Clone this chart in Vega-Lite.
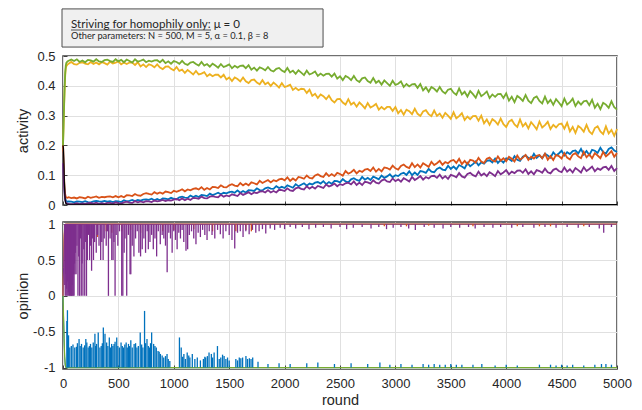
{
"$schema": "https://vega.github.io/schema/vega-lite/v6.json",
"padding": {"left": 14, "top": 7, "right": 5, "bottom": 0},
"config": {
 "view": {"stroke": "#404040", "strokeWidth": 1.5},
 "font": "Liberation Sans",
 "axis": {"grid": true, "gridColor": "#e0e0e0", "gridWidth": 1, "domain": false, "ticks": true, "tickColor": "#404040", "tickSize": -4, "labelPadding": 12, "labelFlush": false, "labelOverlap": false, "labelFont": "Liberation Sans", "labelFontSize": 13, "labelColor": "#262626", "titleFont": "Liberation Sans", "titleFontSize": 14.5, "titleFontWeight": "normal", "titleColor": "#262626"}
},
"datasets": {
"act": [
{"r":0,"G":0.2,"Y":0.2,"O":0.21,"B":0.18,"P":0.14},
{"r":5,"G":0.27,"Y":0.26,"O":0.15,"B":0.13,"P":0.1},
{"r":10,"G":0.34,"Y":0.33,"O":0.09,"B":0.08,"P":0.06},
{"r":15,"G":0.4,"Y":0.39,"O":0.055,"B":0.045,"P":0.035},
{"r":20,"G":0.445,"Y":0.435,"O":0.035,"B":0.025,"P":0.018},
{"r":25,"G":0.468,"Y":0.458,"O":0.028,"B":0.016,"P":0.01},
{"r":30,"G":0.477,"Y":0.466,"O":0.025,"B":0.013,"P":0.006},
{"r":40,"G":0.482,"Y":0.471,"O":0.024,"B":0.011,"P":0.005},
{"r":50,"G":0.484,"Y":0.474,"O":0.026,"B":0.012,"P":0.004},
{"r":75,"G":0.488,"Y":0.48,"O":0.023,"B":0.011,"P":0.003},
{"r":100,"G":0.483,"Y":0.473,"O":0.025,"B":0.009,"P":0.004},
{"r":125,"G":0.489,"Y":0.471,"O":0.022,"B":0.012,"P":0.006},
{"r":150,"G":0.48,"Y":0.477,"O":0.026,"B":0.011,"P":0.003},
{"r":175,"G":0.485,"Y":0.479,"O":0.025,"B":0.01,"P":0.005},
{"r":200,"G":0.479,"Y":0.474,"O":0.022,"B":0.013,"P":0.004},
{"r":225,"G":0.487,"Y":0.472,"O":0.028,"B":0.01,"P":0.006},
{"r":250,"G":0.485,"Y":0.48,"O":0.024,"B":0.009,"P":0.007},
{"r":275,"G":0.481,"Y":0.473,"O":0.026,"B":0.012,"P":0.005},
{"r":300,"G":0.489,"Y":0.478,"O":0.029,"B":0.014,"P":0.008},
{"r":325,"G":0.482,"Y":0.472,"O":0.024,"B":0.012,"P":0.004},
{"r":350,"G":0.48,"Y":0.479,"O":0.027,"B":0.011,"P":0.006},
{"r":375,"G":0.486,"Y":0.476,"O":0.026,"B":0.014,"P":0.004},
{"r":400,"G":0.488,"Y":0.471,"O":0.028,"B":0.011,"P":0.007},
{"r":425,"G":0.483,"Y":0.481,"O":0.029,"B":0.013,"P":0.007},
{"r":450,"G":0.48,"Y":0.475,"O":0.026,"B":0.01,"P":0.005},
{"r":475,"G":0.489,"Y":0.478,"O":0.03,"B":0.013,"P":0.009},
{"r":500,"G":0.482,"Y":0.482,"O":0.026,"B":0.012,"P":0.006},
{"r":525,"G":0.487,"Y":0.472,"O":0.03,"B":0.01,"P":0.005},
{"r":550,"G":0.479,"Y":0.478,"O":0.026,"B":0.016,"P":0.009},
{"r":575,"G":0.488,"Y":0.473,"O":0.033,"B":0.012,"P":0.011},
{"r":600,"G":0.483,"Y":0.478,"O":0.032,"B":0.014,"P":0.008},
{"r":625,"G":0.478,"Y":0.478,"O":0.03,"B":0.017,"P":0.007},
{"r":650,"G":0.489,"Y":0.47,"O":0.037,"B":0.013,"P":0.013},
{"r":675,"G":0.481,"Y":0.479,"O":0.032,"B":0.017,"P":0.009},
{"r":700,"G":0.484,"Y":0.465,"O":0.031,"B":0.015,"P":0.012},
{"r":725,"G":0.488,"Y":0.472,"O":0.037,"B":0.018,"P":0.009},
{"r":750,"G":0.479,"Y":0.463,"O":0.04,"B":0.019,"P":0.013},
{"r":775,"G":0.484,"Y":0.472,"O":0.037,"B":0.017,"P":0.012},
{"r":800,"G":0.481,"Y":0.469,"O":0.035,"B":0.021,"P":0.01},
{"r":825,"G":0.485,"Y":0.462,"O":0.043,"B":0.016,"P":0.015},
{"r":850,"G":0.486,"Y":0.472,"O":0.038,"B":0.02,"P":0.012},
{"r":875,"G":0.479,"Y":0.461,"O":0.042,"B":0.016,"P":0.014},
{"r":900,"G":0.487,"Y":0.456,"O":0.038,"B":0.022,"P":0.017},
{"r":925,"G":0.476,"Y":0.464,"O":0.045,"B":0.021,"P":0.013},
{"r":950,"G":0.482,"Y":0.465,"O":0.043,"B":0.019,"P":0.016},
{"r":975,"G":0.474,"Y":0.457,"O":0.04,"B":0.024,"P":0.015},
{"r":1000,"G":0.483,"Y":0.452,"O":0.048,"B":0.021,"P":0.018},
{"r":1025,"G":0.48,"Y":0.463,"O":0.044,"B":0.019,"P":0.02},
{"r":1050,"G":0.474,"Y":0.45,"O":0.048,"B":0.026,"P":0.016},
{"r":1075,"G":0.484,"Y":0.454,"O":0.053,"B":0.028,"P":0.022},
{"r":1100,"G":0.474,"Y":0.443,"O":0.046,"B":0.025,"P":0.016},
{"r":1125,"G":0.47,"Y":0.453,"O":0.052,"B":0.024,"P":0.021},
{"r":1150,"G":0.478,"Y":0.446,"O":0.049,"B":0.032,"P":0.017},
{"r":1175,"G":0.48,"Y":0.438,"O":0.054,"B":0.027,"P":0.024},
{"r":1200,"G":0.473,"Y":0.45,"O":0.056,"B":0.031,"P":0.023},
{"r":1225,"G":0.468,"Y":0.438,"O":0.052,"B":0.027,"P":0.021},
{"r":1250,"G":0.48,"Y":0.441,"O":0.06,"B":0.034,"P":0.028},
{"r":1275,"G":0.468,"Y":0.446,"O":0.051,"B":0.032,"P":0.023},
{"r":1300,"G":0.473,"Y":0.432,"O":0.057,"B":0.03,"P":0.022},
{"r":1325,"G":0.464,"Y":0.439,"O":0.052,"B":0.038,"P":0.028},
{"r":1350,"G":0.474,"Y":0.432,"O":0.061,"B":0.033,"P":0.03},
{"r":1375,"G":0.468,"Y":0.437,"O":0.06,"B":0.037,"P":0.027},
{"r":1400,"G":0.461,"Y":0.437,"O":0.057,"B":0.041,"P":0.026},
{"r":1425,"G":0.473,"Y":0.428,"O":0.066,"B":0.036,"P":0.034},
{"r":1450,"G":0.463,"Y":0.437,"O":0.06,"B":0.041,"P":0.028},
{"r":1475,"G":0.467,"Y":0.421,"O":0.059,"B":0.039,"P":0.032},
{"r":1500,"G":0.472,"Y":0.428,"O":0.066,"B":0.043,"P":0.029},
{"r":1525,"G":0.459,"Y":0.416,"O":0.07,"B":0.045,"P":0.036},
{"r":1550,"G":0.467,"Y":0.428,"O":0.065,"B":0.041,"P":0.033},
{"r":1575,"G":0.461,"Y":0.423,"O":0.063,"B":0.049,"P":0.03},
{"r":1600,"G":0.467,"Y":0.415,"O":0.074,"B":0.041,"P":0.04},
{"r":1625,"G":0.468,"Y":0.428,"O":0.066,"B":0.047,"P":0.034},
{"r":1650,"G":0.459,"Y":0.415,"O":0.072,"B":0.042,"P":0.038},
{"r":1675,"G":0.469,"Y":0.409,"O":0.066,"B":0.05,"P":0.043},
{"r":1700,"G":0.454,"Y":0.419,"O":0.076,"B":0.049,"P":0.036},
{"r":1725,"G":0.461,"Y":0.421,"O":0.073,"B":0.047,"P":0.042},
{"r":1750,"G":0.451,"Y":0.411,"O":0.069,"B":0.056,"P":0.04},
{"r":1775,"G":0.462,"Y":0.405,"O":0.081,"B":0.05,"P":0.045},
{"r":1800,"G":0.458,"Y":0.419,"O":0.074,"B":0.049,"P":0.046},
{"r":1825,"G":0.452,"Y":0.405,"O":0.079,"B":0.056,"P":0.042},
{"r":1850,"G":0.463,"Y":0.411,"O":0.084,"B":0.059,"P":0.05},
{"r":1875,"G":0.452,"Y":0.399,"O":0.076,"B":0.055,"P":0.042},
{"r":1900,"G":0.448,"Y":0.411,"O":0.083,"B":0.054,"P":0.047},
{"r":1925,"G":0.457,"Y":0.403,"O":0.08,"B":0.063,"P":0.042},
{"r":1950,"G":0.46,"Y":0.394,"O":0.086,"B":0.057,"P":0.051},
{"r":1975,"G":0.451,"Y":0.409,"O":0.088,"B":0.061,"P":0.05},
{"r":2000,"G":0.446,"Y":0.396,"O":0.083,"B":0.057,"P":0.047},
{"r":2025,"G":0.46,"Y":0.399,"O":0.093,"B":0.066,"P":0.056},
{"r":2050,"G":0.445,"Y":0.404,"O":0.081,"B":0.062,"P":0.049},
{"r":2075,"G":0.451,"Y":0.386,"O":0.089,"B":0.058,"P":0.047},
{"r":2100,"G":0.44,"Y":0.393,"O":0.082,"B":0.07,"P":0.056},
{"r":2125,"G":0.452,"Y":0.385,"O":0.094,"B":0.063,"P":0.059},
{"r":2150,"G":0.444,"Y":0.39,"O":0.092,"B":0.068,"P":0.054},
{"r":2175,"G":0.436,"Y":0.389,"O":0.088,"B":0.073,"P":0.052},
{"r":2200,"G":0.451,"Y":0.376,"O":0.099,"B":0.065,"P":0.063},
{"r":2225,"G":0.438,"Y":0.387,"O":0.091,"B":0.072,"P":0.055},
{"r":2250,"G":0.442,"Y":0.366,"O":0.089,"B":0.069,"P":0.061},
{"r":2275,"G":0.448,"Y":0.373,"O":0.099,"B":0.075,"P":0.055},
{"r":2300,"G":0.433,"Y":0.359,"O":0.103,"B":0.077,"P":0.064},
{"r":2325,"G":0.441,"Y":0.371,"O":0.097,"B":0.072,"P":0.061},
{"r":2350,"G":0.434,"Y":0.365,"O":0.094,"B":0.08,"P":0.057},
{"r":2375,"G":0.44,"Y":0.355,"O":0.107,"B":0.07,"P":0.069},
{"r":2400,"G":0.441,"Y":0.367,"O":0.097,"B":0.077,"P":0.062},
{"r":2425,"G":0.431,"Y":0.352,"O":0.104,"B":0.071,"P":0.066},
{"r":2450,"G":0.441,"Y":0.344,"O":0.097,"B":0.081,"P":0.072},
{"r":2475,"G":0.424,"Y":0.355,"O":0.108,"B":0.08,"P":0.063},
{"r":2500,"G":0.432,"Y":0.356,"O":0.104,"B":0.076,"P":0.07},
{"r":2525,"G":0.419,"Y":0.344,"O":0.098,"B":0.087,"P":0.067},
{"r":2550,"G":0.433,"Y":0.337,"O":0.114,"B":0.079,"P":0.073},
{"r":2575,"G":0.428,"Y":0.355,"O":0.105,"B":0.076,"P":0.075},
{"r":2600,"G":0.419,"Y":0.337,"O":0.11,"B":0.086,"P":0.069},
{"r":2625,"G":0.433,"Y":0.344,"O":0.118,"B":0.09,"P":0.079},
{"r":2650,"G":0.419,"Y":0.33,"O":0.106,"B":0.084,"P":0.067},
{"r":2675,"G":0.413,"Y":0.344,"O":0.115,"B":0.081,"P":0.075},
{"r":2700,"G":0.425,"Y":0.335,"O":0.111,"B":0.094,"P":0.067},
{"r":2725,"G":0.428,"Y":0.324,"O":0.119,"B":0.085,"P":0.078},
{"r":2750,"G":0.416,"Y":0.342,"O":0.121,"B":0.091,"P":0.076},
{"r":2775,"G":0.41,"Y":0.327,"O":0.114,"B":0.084,"P":0.072},
{"r":2800,"G":0.426,"Y":0.332,"O":0.126,"B":0.095,"P":0.083},
{"r":2825,"G":0.41,"Y":0.339,"O":0.112,"B":0.091,"P":0.075},
{"r":2850,"G":0.417,"Y":0.32,"O":0.121,"B":0.086,"P":0.072},
{"r":2875,"G":0.404,"Y":0.329,"O":0.113,"B":0.099,"P":0.082},
{"r":2900,"G":0.418,"Y":0.321,"O":0.126,"B":0.091,"P":0.086},
{"r":2925,"G":0.409,"Y":0.329,"O":0.124,"B":0.096,"P":0.079},
{"r":2950,"G":0.4,"Y":0.329,"O":0.119,"B":0.103,"P":0.077},
{"r":2975,"G":0.417,"Y":0.316,"O":0.132,"B":0.093,"P":0.089},
{"r":3000,"G":0.403,"Y":0.329,"O":0.123,"B":0.1,"P":0.08},
{"r":3025,"G":0.407,"Y":0.308,"O":0.119,"B":0.097,"P":0.086},
{"r":3050,"G":0.415,"Y":0.319,"O":0.131,"B":0.105,"P":0.078},
{"r":3075,"G":0.396,"Y":0.303,"O":0.136,"B":0.108,"P":0.09},
{"r":3100,"G":0.406,"Y":0.32,"O":0.128,"B":0.101,"P":0.085},
{"r":3125,"G":0.398,"Y":0.315,"O":0.124,"B":0.113,"P":0.079},
{"r":3150,"G":0.405,"Y":0.305,"O":0.14,"B":0.1,"P":0.094},
{"r":3175,"G":0.406,"Y":0.323,"O":0.127,"B":0.109,"P":0.084},
{"r":3200,"G":0.393,"Y":0.306,"O":0.136,"B":0.101,"P":0.09},
{"r":3225,"G":0.406,"Y":0.299,"O":0.126,"B":0.114,"P":0.097},
{"r":3250,"G":0.385,"Y":0.314,"O":0.14,"B":0.112,"P":0.085},
{"r":3275,"G":0.395,"Y":0.318,"O":0.134,"B":0.108,"P":0.094},
{"r":3300,"G":0.38,"Y":0.305,"O":0.128,"B":0.121,"P":0.089},
{"r":3325,"G":0.396,"Y":0.298,"O":0.145,"B":0.112,"P":0.097},
{"r":3350,"G":0.39,"Y":0.317,"O":0.134,"B":0.11,"P":0.098},
{"r":3375,"G":0.381,"Y":0.299,"O":0.14,"B":0.121,"P":0.091},
{"r":3400,"G":0.396,"Y":0.307,"O":0.148,"B":0.126,"P":0.102},
{"r":3425,"G":0.381,"Y":0.293,"O":0.135,"B":0.119,"P":0.089},
{"r":3450,"G":0.374,"Y":0.309,"O":0.144,"B":0.117,"P":0.097},
{"r":3475,"G":0.387,"Y":0.3,"O":0.14,"B":0.132,"P":0.088},
{"r":3500,"G":0.39,"Y":0.289,"O":0.148,"B":0.121,"P":0.101},
{"r":3525,"G":0.377,"Y":0.311,"O":0.151,"B":0.129,"P":0.098},
{"r":3550,"G":0.37,"Y":0.291,"O":0.141,"B":0.12,"P":0.093},
{"r":3575,"G":0.391,"Y":0.298,"O":0.155,"B":0.134,"P":0.107},
{"r":3600,"G":0.371,"Y":0.308,"O":0.137,"B":0.129,"P":0.096},
{"r":3625,"G":0.38,"Y":0.285,"O":0.148,"B":0.123,"P":0.092},
{"r":3650,"G":0.364,"Y":0.297,"O":0.137,"B":0.141,"P":0.104},
{"r":3675,"G":0.382,"Y":0.288,"O":0.152,"B":0.13,"P":0.108},
{"r":3700,"G":0.372,"Y":0.298,"O":0.149,"B":0.137,"P":0.1},
{"r":3725,"G":0.36,"Y":0.299,"O":0.142,"B":0.146,"P":0.096},
{"r":3750,"G":0.383,"Y":0.283,"O":0.158,"B":0.133,"P":0.112},
{"r":3775,"G":0.365,"Y":0.3,"O":0.146,"B":0.143,"P":0.099},
{"r":3800,"G":0.372,"Y":0.274,"O":0.141,"B":0.139,"P":0.106},
{"r":3825,"G":0.381,"Y":0.287,"O":0.155,"B":0.148,"P":0.097},
{"r":3850,"G":0.359,"Y":0.269,"O":0.159,"B":0.15,"P":0.11},
{"r":3875,"G":0.371,"Y":0.288,"O":0.15,"B":0.143,"P":0.104},
{"r":3900,"G":0.363,"Y":0.281,"O":0.146,"B":0.156,"P":0.097},
{"r":3925,"G":0.372,"Y":0.27,"O":0.163,"B":0.141,"P":0.114},
{"r":3950,"G":0.373,"Y":0.29,"O":0.149,"B":0.151,"P":0.103},
{"r":3975,"G":0.359,"Y":0.271,"O":0.157,"B":0.142,"P":0.109},
{"r":4000,"G":0.375,"Y":0.262,"O":0.147,"B":0.157,"P":0.117},
{"r":4025,"G":0.35,"Y":0.28,"O":0.162,"B":0.154,"P":0.103},
{"r":4050,"G":0.363,"Y":0.286,"O":0.155,"B":0.148,"P":0.112},
{"r":4075,"G":0.345,"Y":0.27,"O":0.146,"B":0.164,"P":0.107},
{"r":4100,"G":0.366,"Y":0.262,"O":0.166,"B":0.152,"P":0.115},
{"r":4125,"G":0.359,"Y":0.287,"O":0.152,"B":0.148,"P":0.116},
{"r":4150,"G":0.349,"Y":0.264,"O":0.159,"B":0.162,"P":0.108},
{"r":4175,"G":0.369,"Y":0.275,"O":0.168,"B":0.167,"P":0.12},
{"r":4200,"G":0.35,"Y":0.257,"O":0.151,"B":0.158,"P":0.104},
{"r":4225,"G":0.342,"Y":0.278,"O":0.162,"B":0.154,"P":0.113},
{"r":4250,"G":0.359,"Y":0.267,"O":0.156,"B":0.172,"P":0.103},
{"r":4275,"G":0.364,"Y":0.254,"O":0.165,"B":0.158,"P":0.117},
{"r":4300,"G":0.349,"Y":0.28,"O":0.168,"B":0.167,"P":0.114},
{"r":4325,"G":0.341,"Y":0.26,"O":0.157,"B":0.157,"P":0.108},
{"r":4350,"G":0.364,"Y":0.268,"O":0.172,"B":0.172,"P":0.122},
{"r":4375,"G":0.342,"Y":0.279,"O":0.152,"B":0.166,"P":0.11},
{"r":4400,"G":0.353,"Y":0.255,"O":0.164,"B":0.159,"P":0.106},
{"r":4425,"G":0.336,"Y":0.269,"O":0.151,"B":0.177,"P":0.118},
{"r":4450,"G":0.355,"Y":0.26,"O":0.168,"B":0.166,"P":0.122},
{"r":4475,"G":0.344,"Y":0.271,"O":0.164,"B":0.173,"P":0.114},
{"r":4500,"G":0.332,"Y":0.273,"O":0.156,"B":0.182,"P":0.11},
{"r":4525,"G":0.357,"Y":0.256,"O":0.174,"B":0.166,"P":0.126},
{"r":4550,"G":0.337,"Y":0.276,"O":0.159,"B":0.177,"P":0.112},
{"r":4575,"G":0.345,"Y":0.247,"O":0.153,"B":0.171,"P":0.12},
{"r":4600,"G":0.357,"Y":0.262,"O":0.169,"B":0.181,"P":0.109},
{"r":4625,"G":0.332,"Y":0.242,"O":0.174,"B":0.183,"P":0.124},
{"r":4650,"G":0.347,"Y":0.265,"O":0.163,"B":0.173,"P":0.117},
{"r":4675,"G":0.337,"Y":0.258,"O":0.157,"B":0.188,"P":0.109},
{"r":4700,"G":0.348,"Y":0.246,"O":0.178,"B":0.169,"P":0.127},
{"r":4725,"G":0.35,"Y":0.269,"O":0.16,"B":0.181,"P":0.114},
{"r":4750,"G":0.335,"Y":0.247,"O":0.17,"B":0.168,"P":0.121},
{"r":4775,"G":0.353,"Y":0.238,"O":0.157,"B":0.185,"P":0.129},
{"r":4800,"G":0.326,"Y":0.258,"O":0.174,"B":0.182,"P":0.113},
{"r":4825,"G":0.34,"Y":0.264,"O":0.166,"B":0.175,"P":0.123},
{"r":4850,"G":0.322,"Y":0.247,"O":0.157,"B":0.192,"P":0.118},
{"r":4875,"G":0.343,"Y":0.238,"O":0.178,"B":0.178,"P":0.126},
{"r":4900,"G":0.337,"Y":0.264,"O":0.163,"B":0.173,"P":0.128},
{"r":4925,"G":0.326,"Y":0.24,"O":0.171,"B":0.188,"P":0.118},
{"r":4950,"G":0.348,"Y":0.252,"O":0.181,"B":0.193,"P":0.131},
{"r":4975,"G":0.328,"Y":0.232,"O":0.162,"B":0.183,"P":0.114},
{"r":5000,"G":0.32,"Y":0.255,"O":0.174,"B":0.178,"P":0.124}
],
"blk": [
{"r":0,"K":0.2},{"r":4,"K":0.19},{"r":8,"K":0.14},{"r":12,"K":0.08},{"r":16,"K":0.04},{"r":20,"K":0.015},{"r":25,"K":0.006},{"r":35,"K":0.003},{"r":5000,"K":0.001}
],
"op": [
{"r":0,"B":0,"O":0,"Y":0,"P":0,"G":0},
{"r":5,"B":-0.3,"O":0.5,"Y":0.4,"P":0.4,"G":-0.3},
{"r":10,"B":-0.6,"O":0.85,"Y":0.75,"P":0.75,"G":-0.6},
{"r":15,"B":-0.85,"O":0.97,"Y":0.93,"P":0.95,"G":-0.85},
{"r":20,"B":-0.97,"O":1,"Y":0.99,"P":1,"G":-0.95},
{"r":25,"B":-1,"O":1,"Y":1,"P":1,"G":-0.99},
{"r":30,"B":-1,"O":1,"Y":1,"P":1,"G":-1},
{"r":5000,"B":-1,"O":1,"Y":1,"P":1,"G":-1}
],
"spk": [
{"r":35,"v":-0.35,"s":"B"},{"r":40,"v":-0.2,"s":"B"},{"r":50,"v":-0.55,"s":"B"},{"r":61,"v":-0.72,"s":"B"},{"r":75,"v":-0.7,"s":"B"},{"r":90,"v":-0.68,"s":"B"},{"r":106,"v":-0.72,"s":"B"},{"r":121,"v":-0.71,"s":"B"},{"r":130,"v":-0.66,"s":"B"},{"r":145,"v":-0.6,"s":"B"},{"r":155,"v":-0.7,"s":"B"},{"r":167,"v":-0.67,"s":"B"},{"r":182,"v":-0.72,"s":"B"},{"r":195,"v":-0.69,"s":"B"},{"r":206,"v":-0.6,"s":"B"},{"r":215,"v":-0.65,"s":"B"},{"r":227,"v":-0.72,"s":"B"},{"r":238,"v":-0.7,"s":"B"},{"r":248,"v":-0.67,"s":"B"},{"r":260,"v":-0.72,"s":"B"},{"r":273,"v":-0.65,"s":"B"},{"r":288,"v":-0.53,"s":"B"},{"r":295,"v":-0.7,"s":"B"},{"r":303,"v":-0.67,"s":"B"},{"r":318,"v":-0.51,"s":"B"},{"r":333,"v":-0.72,"s":"B"},{"r":345,"v":-0.7,"s":"B"},{"r":355,"v":-0.66,"s":"B"},{"r":364,"v":-0.44,"s":"B"},{"r":379,"v":-0.53,"s":"B"},{"r":394,"v":-0.65,"s":"B"},{"r":405,"v":-0.7,"s":"B"},{"r":418,"v":-0.58,"s":"B"},{"r":428,"v":-0.72,"s":"B"},{"r":439,"v":-0.67,"s":"B"},{"r":450,"v":-0.7,"s":"B"},{"r":461,"v":-0.67,"s":"B"},{"r":470,"v":-0.64,"s":"B"},{"r":485,"v":-0.58,"s":"B"},{"r":495,"v":-0.7,"s":"B"},{"r":509,"v":-0.72,"s":"B"},{"r":524,"v":-0.65,"s":"B"},{"r":535,"v":-0.7,"s":"B"},{"r":545,"v":-0.72,"s":"B"},{"r":558,"v":-0.68,"s":"B"},{"r":570,"v":-0.65,"s":"B"},{"r":580,"v":-0.72,"s":"B"},{"r":591,"v":-0.67,"s":"B"},{"r":600,"v":-0.7,"s":"B"},{"r":612,"v":-0.62,"s":"B"},{"r":625,"v":-0.72,"s":"B"},{"r":642,"v":-0.67,"s":"B"},{"r":655,"v":-0.66,"s":"B"},{"r":667,"v":-0.72,"s":"B"},{"r":680,"v":-0.7,"s":"B"},{"r":697,"v":-0.51,"s":"B"},{"r":710,"v":-0.68,"s":"B"},{"r":721,"v":-0.72,"s":"B"},{"r":736,"v":-0.21,"s":"B"},{"r":745,"v":-0.66,"s":"B"},{"r":758,"v":-0.6,"s":"B"},{"r":770,"v":-0.7,"s":"B"},{"r":782,"v":-0.72,"s":"B"},{"r":790,"v":-0.66,"s":"B"},{"r":800,"v":-0.51,"s":"B"},{"r":818,"v":-0.67,"s":"B"},{"r":830,"v":-0.7,"s":"B"},{"r":842,"v":-0.72,"s":"B"},{"r":858,"v":-0.77,"s":"B"},{"r":868,"v":-0.78,"s":"B"},{"r":879,"v":-0.81,"s":"B"},{"r":895,"v":-0.83,"s":"B"},{"r":909,"v":-0.86,"s":"B"},{"r":925,"v":-0.84,"s":"B"},{"r":939,"v":-0.81,"s":"B"},{"r":950,"v":-0.88,"s":"B"},{"r":964,"v":-0.91,"s":"B"},{"r":1051,"v":-0.58,"s":"B"},{"r":1067,"v":-0.72,"s":"B"},{"r":1080,"v":-0.85,"s":"B"},{"r":1091,"v":-0.81,"s":"B"},{"r":1105,"v":-0.88,"s":"B"},{"r":1121,"v":-0.79,"s":"B"},{"r":1135,"v":-0.83,"s":"B"},{"r":1145,"v":-0.86,"s":"B"},{"r":1167,"v":-0.81,"s":"B"},{"r":1190,"v":-0.88,"s":"B"},{"r":1212,"v":-0.86,"s":"B"},{"r":1240,"v":-0.9,"s":"B"},{"r":1267,"v":-0.88,"s":"B"},{"r":1280,"v":-0.85,"s":"B"},{"r":1288,"v":-0.86,"s":"B"},{"r":1303,"v":-0.84,"s":"B"},{"r":1318,"v":-0.79,"s":"B"},{"r":1339,"v":-0.81,"s":"B"},{"r":1350,"v":-0.86,"s":"B"},{"r":1364,"v":-0.79,"s":"B"},{"r":1394,"v":-0.7,"s":"B"},{"r":1410,"v":-0.88,"s":"B"},{"r":1424,"v":-0.86,"s":"B"},{"r":1440,"v":-0.82,"s":"B"},{"r":1454,"v":-0.84,"s":"B"},{"r":1470,"v":-0.88,"s":"B"},{"r":1485,"v":-0.86,"s":"B"},{"r":1500,"v":-0.9,"s":"B"},{"r":1560,"v":-0.88,"s":"B"},{"r":1575,"v":-0.9,"s":"B"},{"r":1591,"v":-0.86,"s":"B"},{"r":1605,"v":-0.87,"s":"B"},{"r":1621,"v":-0.86,"s":"B"},{"r":1651,"v":-0.84,"s":"B"},{"r":1665,"v":-0.88,"s":"B"},{"r":1682,"v":-0.87,"s":"B"},{"r":1697,"v":-0.88,"s":"B"},{"r":1712,"v":-0.86,"s":"B"},{"r":1760,"v":-0.92,"s":"B"},{"r":1850,"v":-0.95,"s":"B"},{"r":1950,"v":-0.94,"s":"B"},{"r":2050,"v":-0.95,"s":"B"},{"r":2200,"v":-0.94,"s":"B"},{"r":2300,"v":-0.93,"s":"B"},{"r":2450,"v":-0.95,"s":"B"},{"r":2600,"v":-0.94,"s":"B"},{"r":2750,"v":-0.95,"s":"B"},{"r":2860,"v":-0.93,"s":"B"},{"r":2950,"v":-0.96,"s":"B"},{"r":3050,"v":-0.95,"s":"B"},{"r":3150,"v":-0.96,"s":"B"},{"r":3250,"v":-0.95,"s":"B"},{"r":3300,"v":-0.96,"s":"B"},{"r":3350,"v":-0.95,"s":"B"},{"r":3400,"v":-0.96,"s":"B"},{"r":3450,"v":-0.96,"s":"B"},{"r":3500,"v":-0.95,"s":"B"},{"r":3550,"v":-0.96,"s":"B"},{"r":3600,"v":-0.96,"s":"B"},{"r":3700,"v":-0.96,"s":"B"},{"r":3780,"v":-0.95,"s":"B"},{"r":3900,"v":-0.97,"s":"B"},{"r":4000,"v":-0.96,"s":"B"},{"r":4100,"v":-0.97,"s":"B"},{"r":4300,"v":-0.96,"s":"B"},{"r":4400,"v":-0.96,"s":"B"},{"r":4450,"v":-0.97,"s":"B"},{"r":4500,"v":-0.96,"s":"B"},{"r":4550,"v":-0.97,"s":"B"},{"r":4600,"v":-0.96,"s":"B"},{"r":4700,"v":-0.97,"s":"B"},{"r":4800,"v":-0.96,"s":"B"},{"r":4860,"v":-0.95,"s":"B"},{"r":4900,"v":-0.95,"s":"B"},{"r":4950,"v":-0.96,"s":"B"},
{"r":110,"v":0.85,"s":"O"},{"r":165,"v":0.87,"s":"O"},{"r":230,"v":0.9,"s":"O"},{"r":310,"v":0.82,"s":"O"},{"r":390,"v":0.9,"s":"O"},{"r":440,"v":0.88,"s":"O"},{"r":530,"v":0.9,"s":"O"},{"r":610,"v":0.92,"s":"O"},{"r":700,"v":0.88,"s":"O"},{"r":900,"v":0.9,"s":"O"},{"r":1000,"v":0.92,"s":"O"},{"r":1180,"v":0.93,"s":"O"},{"r":1350,"v":0.9,"s":"O"},{"r":1560,"v":0.9,"s":"O"},{"r":1650,"v":0.92,"s":"O"},{"r":1700,"v":0.9,"s":"O"},{"r":2900,"v":0.97,"s":"O"},{"r":3100,"v":0.97,"s":"O"},{"r":3300,"v":0.98,"s":"O"},{"r":3700,"v":0.97,"s":"O"},{"r":4100,"v":0.97,"s":"O"},{"r":4300,"v":0.97,"s":"O"},{"r":4400,"v":0.97,"s":"O"},{"r":4700,"v":0.97,"s":"O"},
{"r":16,"v":0.15,"s":"P"},{"r":20,"v":0,"s":"P"},{"r":24,"v":0.3,"s":"P"},{"r":28,"v":0,"s":"P"},{"r":32,"v":0.1,"s":"P"},{"r":36,"v":0,"s":"P"},{"r":40,"v":0.2,"s":"P"},{"r":44,"v":0,"s":"P"},{"r":48,"v":0.05,"s":"P"},{"r":52,"v":0,"s":"P"},{"r":56,"v":0.35,"s":"P"},{"r":60,"v":0,"s":"P"},{"r":64,"v":0.1,"s":"P"},{"r":68,"v":0,"s":"P"},{"r":72,"v":0.25,"s":"P"},{"r":76,"v":0,"s":"P"},{"r":80,"v":0,"s":"P"},{"r":84,"v":0.15,"s":"P"},{"r":88,"v":0,"s":"P"},{"r":92,"v":0,"s":"P"},{"r":96,"v":0.3,"s":"P"},{"r":100,"v":0,"s":"P"},{"r":104,"v":0.45,"s":"P"},{"r":108,"v":0.3,"s":"P"},{"r":112,"v":0.6,"s":"P"},{"r":118,"v":0.3,"s":"P"},{"r":126,"v":0.7,"s":"P"},{"r":135,"v":0,"s":"P"},{"r":142,"v":0.55,"s":"P"},{"r":150,"v":0,"s":"P"},{"r":158,"v":0.8,"s":"P"},{"r":165,"v":0,"s":"P"},{"r":172,"v":0.45,"s":"P"},{"r":180,"v":0,"s":"P"},{"r":188,"v":0.65,"s":"P"},{"r":196,"v":0,"s":"P"},{"r":205,"v":0.75,"s":"P"},{"r":212,"v":0,"s":"P"},{"r":220,"v":0.5,"s":"P"},{"r":230,"v":0.85,"s":"P"},{"r":240,"v":0.5,"s":"P"},{"r":250,"v":0.7,"s":"P"},{"r":258,"v":0.35,"s":"P"},{"r":268,"v":0.8,"s":"P"},{"r":275,"v":0.5,"s":"P"},{"r":285,"v":0.75,"s":"P"},{"r":300,"v":0.6,"s":"P"},{"r":312,"v":0.85,"s":"P"},{"r":325,"v":0.7,"s":"P"},{"r":340,"v":0.5,"s":"P"},{"r":350,"v":0.75,"s":"P"},{"r":362,"v":0.5,"s":"P"},{"r":372,"v":0.8,"s":"P"},{"r":390,"v":0.7,"s":"P"},{"r":402,"v":0.9,"s":"P"},{"r":410,"v":0,"s":"P"},{"r":425,"v":0.8,"s":"P"},{"r":440,"v":0.5,"s":"P"},{"r":452,"v":0.5,"s":"P"},{"r":460,"v":0.75,"s":"P"},{"r":470,"v":0,"s":"P"},{"r":480,"v":0.85,"s":"P"},{"r":495,"v":0.7,"s":"P"},{"r":510,"v":0.9,"s":"P"},{"r":530,"v":0,"s":"P"},{"r":540,"v":0,"s":"P"},{"r":552,"v":0.6,"s":"P"},{"r":560,"v":0.8,"s":"P"},{"r":575,"v":0,"s":"P"},{"r":590,"v":0.85,"s":"P"},{"r":605,"v":0.3,"s":"P"},{"r":612,"v":0.3,"s":"P"},{"r":625,"v":0.7,"s":"P"},{"r":640,"v":0.55,"s":"P"},{"r":655,"v":0.8,"s":"P"},{"r":670,"v":0.9,"s":"P"},{"r":685,"v":0.6,"s":"P"},{"r":700,"v":0.55,"s":"P"},{"r":715,"v":0.65,"s":"P"},{"r":730,"v":0.8,"s":"P"},{"r":745,"v":0.6,"s":"P"},{"r":760,"v":0.9,"s":"P"},{"r":770,"v":0.65,"s":"P"},{"r":785,"v":0.75,"s":"P"},{"r":800,"v":0.85,"s":"P"},{"r":815,"v":0.65,"s":"P"},{"r":830,"v":0.8,"s":"P"},{"r":845,"v":0.55,"s":"P"},{"r":860,"v":0.9,"s":"P"},{"r":878,"v":0.72,"s":"P"},{"r":895,"v":0.85,"s":"P"},{"r":910,"v":0.8,"s":"P"},{"r":925,"v":0.7,"s":"P"},{"r":940,"v":0.33,"s":"P"},{"r":955,"v":0.88,"s":"P"},{"r":970,"v":0.8,"s":"P"},{"r":985,"v":0.6,"s":"P"},{"r":1000,"v":0.9,"s":"P"},{"r":1015,"v":0.78,"s":"P"},{"r":1030,"v":0.65,"s":"P"},{"r":1045,"v":0.88,"s":"P"},{"r":1060,"v":0.8,"s":"P"},{"r":1075,"v":0.92,"s":"P"},{"r":1090,"v":0.75,"s":"P"},{"r":1110,"v":0.63,"s":"P"},{"r":1125,"v":0.65,"s":"P"},{"r":1140,"v":0.85,"s":"P"},{"r":1160,"v":0.9,"s":"P"},{"r":1180,"v":0.8,"s":"P"},{"r":1200,"v":0.72,"s":"P"},{"r":1220,"v":0.88,"s":"P"},{"r":1240,"v":0.82,"s":"P"},{"r":1260,"v":0.92,"s":"P"},{"r":1280,"v":0.85,"s":"P"},{"r":1300,"v":0.78,"s":"P"},{"r":1320,"v":0.9,"s":"P"},{"r":1345,"v":0.85,"s":"P"},{"r":1370,"v":0.8,"s":"P"},{"r":1395,"v":0.92,"s":"P"},{"r":1420,"v":0.86,"s":"P"},{"r":1445,"v":0.8,"s":"P"},{"r":1470,"v":0.9,"s":"P"},{"r":1500,"v":0.85,"s":"P"},{"r":1525,"v":0.78,"s":"P"},{"r":1550,"v":0.66,"s":"P"},{"r":1575,"v":0.88,"s":"P"},{"r":1600,"v":0.9,"s":"P"},{"r":1625,"v":0.82,"s":"P"},{"r":1650,"v":0.9,"s":"P"},{"r":1680,"v":0.86,"s":"P"},{"r":1710,"v":0.92,"s":"P"},{"r":1740,"v":0.88,"s":"P"},{"r":1770,"v":0.9,"s":"P"},{"r":1800,"v":0.93,"s":"P"},{"r":1830,"v":0.87,"s":"P"},{"r":1870,"v":0.94,"s":"P"},{"r":1910,"v":0.92,"s":"P"},{"r":1960,"v":0.95,"s":"P"},{"r":2000,"v":0.93,"s":"P"},{"r":2050,"v":0.96,"s":"P"},{"r":2100,"v":0.94,"s":"P"},{"r":2160,"v":0.96,"s":"P"},{"r":2220,"v":0.93,"s":"P"},{"r":2280,"v":0.95,"s":"P"},{"r":2350,"v":0.96,"s":"P"},{"r":2420,"v":0.94,"s":"P"},{"r":2500,"v":0.96,"s":"P"},{"r":2560,"v":0.93,"s":"P"},{"r":2620,"v":0.95,"s":"P"},{"r":2700,"v":0.96,"s":"P"},{"r":2780,"v":0.94,"s":"P"},{"r":2850,"v":0.96,"s":"P"},{"r":2920,"v":0.93,"s":"P"},{"r":2980,"v":0.95,"s":"P"},{"r":3050,"v":0.96,"s":"P"},{"r":3120,"v":0.94,"s":"P"},{"r":3180,"v":0.92,"s":"P"},{"r":3260,"v":0.96,"s":"P"},{"r":3350,"v":0.95,"s":"P"},{"r":3430,"v":0.94,"s":"P"},{"r":3500,"v":0.96,"s":"P"},{"r":3580,"v":0.95,"s":"P"},{"r":3660,"v":0.96,"s":"P"},{"r":3720,"v":0.94,"s":"P"},{"r":3800,"v":0.96,"s":"P"},{"r":3880,"v":0.95,"s":"P"},{"r":3950,"v":0.96,"s":"P"},{"r":4050,"v":0.95,"s":"P"},{"r":4150,"v":0.96,"s":"P"},{"r":4250,"v":0.95,"s":"P"},{"r":4350,"v":0.96,"s":"P"},{"r":4450,"v":0.95,"s":"P"},{"r":4550,"v":0.96,"s":"P"},{"r":4650,"v":0.95,"s":"P"},{"r":4750,"v":0.96,"s":"P"},{"r":4840,"v":0.94,"s":"P"},{"r":4880,"v":0.88,"s":"P"},{"r":4950,"v":0.96,"s":"P"}
]
},
"spacing": 4,
"vconcat": [
{
 "width": 554, "height": 149,
 "layer": [
  {"data": {"name": "act"}, "mark": {"type": "line", "color": "#0072BD", "strokeWidth": 1.8},
   "encoding": {
    "x": {"field": "r", "type": "quantitative", "scale": {"domain": [0, 5000], "nice": false, "zero": false, "padding": 0}, "axis": {"values": [0,500,1000,1500,2000,2500,3000,3500,4000,4500,5000], "labels": false, "title": null, "labelPadding": 0}},
    "y": {"field": "B", "type": "quantitative", "scale": {"domain": [0, 0.5], "nice": false, "zero": false, "padding": 0}, "axis": {"values": [0,0.1,0.2,0.3,0.4,0.5], "labelExpr": "toString(datum.value)", "title": "activity", "minExtent": 30, "maxExtent": 30, "titlePadding": 3}}}},
  {"data": {"name": "act"}, "mark": {"type": "line", "color": "#D95319", "strokeWidth": 1.8},
   "encoding": {
    "x": {"field": "r", "type": "quantitative", "scale": {"domain": [0, 5000], "nice": false, "zero": false, "padding": 0}, "axis": {"values": [0,500,1000,1500,2000,2500,3000,3500,4000,4500,5000], "labels": false, "title": null, "labelPadding": 0}},
    "y": {"field": "O", "type": "quantitative", "scale": {"domain": [0, 0.5], "nice": false, "zero": false, "padding": 0}, "axis": {"values": [0,0.1,0.2,0.3,0.4,0.5], "labelExpr": "toString(datum.value)", "title": "activity", "minExtent": 30, "maxExtent": 30, "titlePadding": 3}}}},
  {"data": {"name": "act"}, "mark": {"type": "line", "color": "#EDB120", "strokeWidth": 1.8},
   "encoding": {
    "x": {"field": "r", "type": "quantitative", "scale": {"domain": [0, 5000], "nice": false, "zero": false, "padding": 0}, "axis": {"values": [0,500,1000,1500,2000,2500,3000,3500,4000,4500,5000], "labels": false, "title": null, "labelPadding": 0}},
    "y": {"field": "Y", "type": "quantitative", "scale": {"domain": [0, 0.5], "nice": false, "zero": false, "padding": 0}, "axis": {"values": [0,0.1,0.2,0.3,0.4,0.5], "labelExpr": "toString(datum.value)", "title": "activity", "minExtent": 30, "maxExtent": 30, "titlePadding": 3}}}},
  {"data": {"name": "act"}, "mark": {"type": "line", "color": "#7E2F8E", "strokeWidth": 1.8},
   "encoding": {
    "x": {"field": "r", "type": "quantitative", "scale": {"domain": [0, 5000], "nice": false, "zero": false, "padding": 0}, "axis": {"values": [0,500,1000,1500,2000,2500,3000,3500,4000,4500,5000], "labels": false, "title": null, "labelPadding": 0}},
    "y": {"field": "P", "type": "quantitative", "scale": {"domain": [0, 0.5], "nice": false, "zero": false, "padding": 0}, "axis": {"values": [0,0.1,0.2,0.3,0.4,0.5], "labelExpr": "toString(datum.value)", "title": "activity", "minExtent": 30, "maxExtent": 30, "titlePadding": 3}}}},
  {"data": {"name": "act"}, "mark": {"type": "line", "color": "#77AC30", "strokeWidth": 1.8},
   "encoding": {
    "x": {"field": "r", "type": "quantitative", "scale": {"domain": [0, 5000], "nice": false, "zero": false, "padding": 0}, "axis": {"values": [0,500,1000,1500,2000,2500,3000,3500,4000,4500,5000], "labels": false, "title": null, "labelPadding": 0}},
    "y": {"field": "G", "type": "quantitative", "scale": {"domain": [0, 0.5], "nice": false, "zero": false, "padding": 0}, "axis": {"values": [0,0.1,0.2,0.3,0.4,0.5], "labelExpr": "toString(datum.value)", "title": "activity", "minExtent": 30, "maxExtent": 30, "titlePadding": 3}}}},
  {"data": {"name": "blk"}, "mark": {"type": "line", "color": "#000000", "strokeWidth": 1.2},
   "encoding": {
    "x": {"field": "r", "type": "quantitative", "scale": {"domain": [0, 5000], "nice": false, "zero": false, "padding": 0}, "axis": {"values": [0,500,1000,1500,2000,2500,3000,3500,4000,4500,5000], "labels": false, "title": null, "labelPadding": 0}},
    "y": {"field": "K", "type": "quantitative", "scale": {"domain": [0, 0.5], "nice": false, "zero": false, "padding": 0}, "axis": {"values": [0,0.1,0.2,0.3,0.4,0.5], "labelExpr": "toString(datum.value)", "title": "activity", "minExtent": 30, "maxExtent": 30, "titlePadding": 3}}}},
  {"data": {"values": [{}]}, "mark": {"type": "rect", "fill": "#f0f0f0", "stroke": "#4d4d4d", "strokeWidth": 1},
   "encoding": {
    "x": {"datum": -9, "type": "quantitative", "scale": {"domain": [0, 5000], "nice": false, "zero": false, "padding": 0}, "axis": {"values": [0,500,1000,1500,2000,2500,3000,3500,4000,4500,5000], "labels": false, "title": null, "labelPadding": 0}},
    "x2": {"datum": 2347},
    "y": {"datum": 0.53, "type": "quantitative", "scale": {"domain": [0, 0.5], "nice": false, "zero": false, "padding": 0}, "axis": {"values": [0,0.1,0.2,0.3,0.4,0.5], "labelExpr": "toString(datum.value)", "title": "activity", "minExtent": 30, "maxExtent": 30, "titlePadding": 3}},
    "y2": {"datum": 0.658}}},
  {"data": {"values": [{}]}, "mark": {"type": "text", "text": "Striving for homophily only: μ = 0", "align": "left", "baseline": "alphabetic", "font": "Lato", "fontSize": 11.6, "color": "#262626"},
   "encoding": {
    "x": {"datum": 72, "type": "quantitative", "scale": {"domain": [0, 5000], "nice": false, "zero": false, "padding": 0}, "axis": {"values": [0,500,1000,1500,2000,2500,3000,3500,4000,4500,5000], "labels": false, "title": null, "labelPadding": 0}},
    "y": {"datum": 0.594, "type": "quantitative", "scale": {"domain": [0, 0.5], "nice": false, "zero": false, "padding": 0}, "axis": {"values": [0,0.1,0.2,0.3,0.4,0.5], "labelExpr": "toString(datum.value)", "title": "activity", "minExtent": 30, "maxExtent": 30, "titlePadding": 3}}}},
  {"data": {"values": [{}]}, "mark": {"type": "text", "text": "Other parameters: N = 500, M = 5, α = 0.1, β = 8", "align": "left", "baseline": "alphabetic", "font": "Lato", "fontSize": 9.3, "color": "#262626"},
   "encoding": {
    "x": {"datum": 72, "type": "quantitative", "scale": {"domain": [0, 5000], "nice": false, "zero": false, "padding": 0}, "axis": {"values": [0,500,1000,1500,2000,2500,3000,3500,4000,4500,5000], "labels": false, "title": null, "labelPadding": 0}},
    "y": {"datum": 0.5554, "type": "quantitative", "scale": {"domain": [0, 0.5], "nice": false, "zero": false, "padding": 0}, "axis": {"values": [0,0.1,0.2,0.3,0.4,0.5], "labelExpr": "toString(datum.value)", "title": "activity", "minExtent": 30, "maxExtent": 30, "titlePadding": 3}}}},
  {"data": {"values": [{}]}, "mark": {"type": "rule", "color": "#262626", "strokeWidth": 0.8},
   "encoding": {
    "x": {"datum": 72, "type": "quantitative", "scale": {"domain": [0, 5000], "nice": false, "zero": false, "padding": 0}, "axis": {"values": [0,500,1000,1500,2000,2500,3000,3500,4000,4500,5000], "labels": false, "title": null, "labelPadding": 0}},
    "x2": {"datum": 1336},
    "y": {"datum": 0.5872, "type": "quantitative", "scale": {"domain": [0, 0.5], "nice": false, "zero": false, "padding": 0}, "axis": {"values": [0,0.1,0.2,0.3,0.4,0.5], "labelExpr": "toString(datum.value)", "title": "activity", "minExtent": 30, "maxExtent": 30, "titlePadding": 3}}}}
 ]
},
{
 "width": 554, "height": 147,
 "layer": [
  {"data": {"name": "op"}, "mark": {"type": "line", "color": "#0072BD", "strokeWidth": 1},
   "encoding": {
    "x": {"field": "r", "type": "quantitative", "scale": {"domain": [0, 5000], "nice": false, "zero": false, "padding": 0}, "axis": {"values": [0,500,1000,1500,2000,2500,3000,3500,4000,4500,5000], "format": "d", "title": "round", "titlePadding": 3}},
    "y": {"field": "B", "type": "quantitative", "scale": {"domain": [-1.02, 1.03], "nice": false, "zero": false, "padding": 0}, "axis": {"values": [-1,-0.5,0,0.5,1], "labelExpr": "toString(datum.value)", "title": "opinion", "minExtent": 30, "maxExtent": 30, "titlePadding": 3}}}},
  {"data": {"name": "op"}, "mark": {"type": "line", "color": "#D95319", "strokeWidth": 1},
   "encoding": {
    "x": {"field": "r", "type": "quantitative", "scale": {"domain": [0, 5000], "nice": false, "zero": false, "padding": 0}, "axis": {"values": [0,500,1000,1500,2000,2500,3000,3500,4000,4500,5000], "format": "d", "title": "round", "titlePadding": 3}},
    "y": {"field": "O", "type": "quantitative", "scale": {"domain": [-1.02, 1.03], "nice": false, "zero": false, "padding": 0}, "axis": {"values": [-1,-0.5,0,0.5,1], "labelExpr": "toString(datum.value)", "title": "opinion", "minExtent": 30, "maxExtent": 30, "titlePadding": 3}}}},
  {"data": {"name": "op"}, "mark": {"type": "line", "color": "#EDB120", "strokeWidth": 1},
   "encoding": {
    "x": {"field": "r", "type": "quantitative", "scale": {"domain": [0, 5000], "nice": false, "zero": false, "padding": 0}, "axis": {"values": [0,500,1000,1500,2000,2500,3000,3500,4000,4500,5000], "format": "d", "title": "round", "titlePadding": 3}},
    "y": {"field": "Y", "type": "quantitative", "scale": {"domain": [-1.02, 1.03], "nice": false, "zero": false, "padding": 0}, "axis": {"values": [-1,-0.5,0,0.5,1], "labelExpr": "toString(datum.value)", "title": "opinion", "minExtent": 30, "maxExtent": 30, "titlePadding": 3}}}},
  {"data": {"name": "op"}, "mark": {"type": "line", "color": "#7E2F8E", "strokeWidth": 1},
   "encoding": {
    "x": {"field": "r", "type": "quantitative", "scale": {"domain": [0, 5000], "nice": false, "zero": false, "padding": 0}, "axis": {"values": [0,500,1000,1500,2000,2500,3000,3500,4000,4500,5000], "format": "d", "title": "round", "titlePadding": 3}},
    "y": {"field": "P", "type": "quantitative", "scale": {"domain": [-1.02, 1.03], "nice": false, "zero": false, "padding": 0}, "axis": {"values": [-1,-0.5,0,0.5,1], "labelExpr": "toString(datum.value)", "title": "opinion", "minExtent": 30, "maxExtent": 30, "titlePadding": 3}}}},
  {"data": {"name": "op"}, "mark": {"type": "line", "color": "#77AC30", "strokeWidth": 1.2},
   "encoding": {
    "x": {"field": "r", "type": "quantitative", "scale": {"domain": [0, 5000], "nice": false, "zero": false, "padding": 0}, "axis": {"values": [0,500,1000,1500,2000,2500,3000,3500,4000,4500,5000], "format": "d", "title": "round", "titlePadding": 3}},
    "y": {"field": "G", "type": "quantitative", "scale": {"domain": [-1.02, 1.03], "nice": false, "zero": false, "padding": 0}, "axis": {"values": [-1,-0.5,0,0.5,1], "labelExpr": "toString(datum.value)", "title": "opinion", "minExtent": 30, "maxExtent": 30, "titlePadding": 3}}}},
  {"data": {"name": "spk"}, "transform": [{"filter": "datum.s == 'B'"}], "mark": {"type": "rule", "color": "#0072BD", "strokeWidth": 1.3},
   "encoding": {
    "x": {"field": "r", "type": "quantitative", "scale": {"domain": [0, 5000], "nice": false, "zero": false, "padding": 0}, "axis": {"values": [0,500,1000,1500,2000,2500,3000,3500,4000,4500,5000], "format": "d", "title": "round", "titlePadding": 3}},
    "y": {"field": "v", "type": "quantitative", "scale": {"domain": [-1.02, 1.03], "nice": false, "zero": false, "padding": 0}, "axis": {"values": [-1,-0.5,0,0.5,1], "labelExpr": "toString(datum.value)", "title": "opinion", "minExtent": 30, "maxExtent": 30, "titlePadding": 3}},
    "y2": {"datum": -1}}},
  {"data": {"name": "spk"}, "transform": [{"filter": "datum.s == 'O'"}], "mark": {"type": "rule", "color": "#D95319", "strokeWidth": 1.3},
   "encoding": {
    "x": {"field": "r", "type": "quantitative", "scale": {"domain": [0, 5000], "nice": false, "zero": false, "padding": 0}, "axis": {"values": [0,500,1000,1500,2000,2500,3000,3500,4000,4500,5000], "format": "d", "title": "round", "titlePadding": 3}},
    "y": {"field": "v", "type": "quantitative", "scale": {"domain": [-1.02, 1.03], "nice": false, "zero": false, "padding": 0}, "axis": {"values": [-1,-0.5,0,0.5,1], "labelExpr": "toString(datum.value)", "title": "opinion", "minExtent": 30, "maxExtent": 30, "titlePadding": 3}},
    "y2": {"datum": 1}}},
  {"data": {"name": "spk"}, "transform": [{"filter": "datum.s == 'P'"}], "mark": {"type": "rule", "color": "#7E2F8E", "strokeWidth": 1.3},
   "encoding": {
    "x": {"field": "r", "type": "quantitative", "scale": {"domain": [0, 5000], "nice": false, "zero": false, "padding": 0}, "axis": {"values": [0,500,1000,1500,2000,2500,3000,3500,4000,4500,5000], "format": "d", "title": "round", "titlePadding": 3}},
    "y": {"field": "v", "type": "quantitative", "scale": {"domain": [-1.02, 1.03], "nice": false, "zero": false, "padding": 0}, "axis": {"values": [-1,-0.5,0,0.5,1], "labelExpr": "toString(datum.value)", "title": "opinion", "minExtent": 30, "maxExtent": 30, "titlePadding": 3}},
    "y2": {"datum": 1}}}
 ]
}
]
}
